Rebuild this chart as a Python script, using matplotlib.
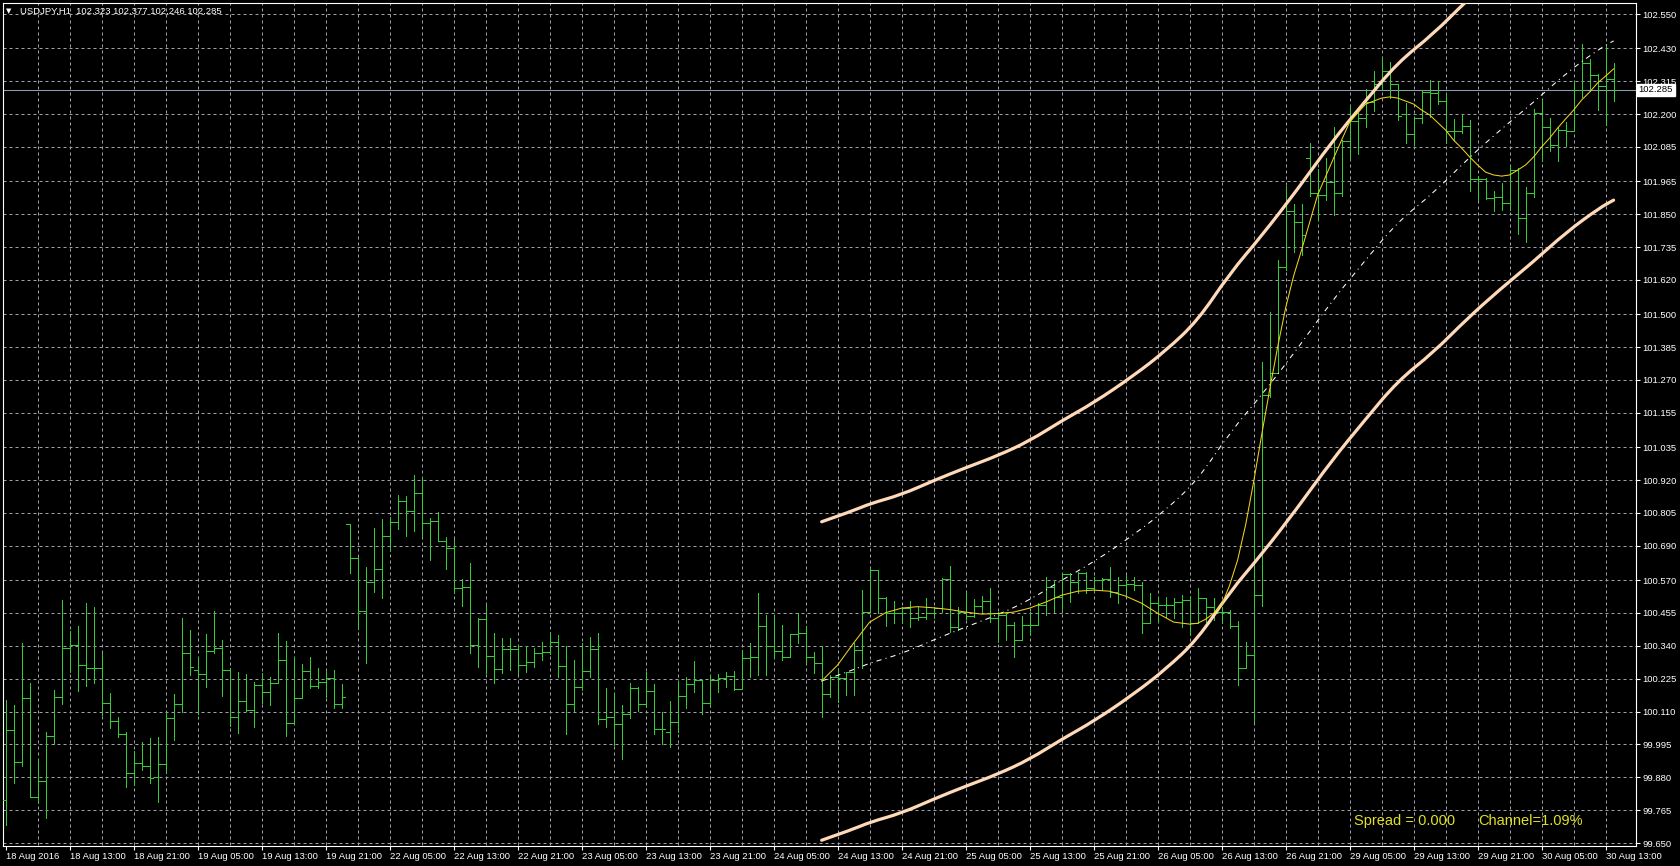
import numpy as np
import matplotlib.pyplot as plt
from matplotlib.path import Path
from matplotlib.patches import PathPatch

# USDJPY H1 bars, 18 Aug 05:00 -> 30 Aug 14:00
opens = [99.800, 100.045, 99.933, 100.157, 99.810, 99.866, 100.024, 100.160, 100.332, 100.342,
         100.272, 100.262, 100.262, 100.139, 100.076, 100.031, 99.895, 99.930, 99.919, 99.880,
         99.926, 100.087, 100.136, 100.314, 100.255, 100.241, 100.321, 100.332, 100.255, 100.090,
         100.146, 100.115, 100.202, 100.178, 100.209, 100.290, 100.069, 100.157, 100.251, 100.199,
         100.213, 100.227, 100.136, 100.766, 100.647, 100.461, 100.563, 100.608, 100.724, 100.773,
         100.846, 100.811, 100.874, 100.769, 100.776, 100.706, 100.682, 100.542, 100.545, 100.342,
         100.433, 100.304, 100.258, 100.328, 100.328, 100.272, 100.283, 100.314, 100.318, 100.353,
         100.269, 100.136, 100.195, 100.251, 100.328, 100.083, 100.090, 100.066, 100.101, 100.192,
         100.136, 100.181, 100.048, 100.038, 100.073, 100.164, 100.206, 100.220, 100.139, 100.220,
         100.227, 100.234, 100.188, 100.297, 100.300, 100.409, 100.339, 100.321, 100.300, 100.381,
         100.384, 100.300, 100.279, 100.171, 100.230, 100.227, 100.248, 100.325, 100.458, 100.605,
         100.507, 100.454, 100.454, 100.472, 100.437, 100.440, 100.454, 100.472, 100.573, 100.405,
         100.458, 100.444, 100.479, 100.496, 100.437, 100.447, 100.412, 100.360, 100.412, 100.412,
         100.482, 100.545, 100.510, 100.591, 100.563, 100.594, 100.542, 100.570, 100.573, 100.528,
         100.552, 100.556, 100.552, 100.419, 100.489, 100.482, 100.482, 100.493, 100.500, 100.419,
         100.507, 100.475, 100.458, 100.458, 100.409, 100.262, 100.307, 100.517, 101.217, 101.294,
         101.665, 101.861, 101.822, 102.046, 101.924, 101.917, 101.962, 101.924, 102.106, 102.176,
         102.186, 102.242, 102.305, 102.351, 102.305, 102.200, 102.130, 102.186, 102.277, 102.274,
         102.246, 102.141, 102.141, 102.158, 101.973, 101.973, 101.906, 101.910, 101.889, 102.004,
         101.836, 101.924, 102.204, 102.155, 102.092, 102.144, 102.141, 102.284, 102.379, 102.337,
         102.298, 102.323]
highs = [100.150, 100.132, 100.350, 100.210, 99.944, 100.038, 100.185, 100.500, 100.391, 100.409,
         100.489, 100.475, 100.314, 100.174, 100.090, 100.038, 99.971, 100.003, 100.017, 100.020,
         100.108, 100.171, 100.437, 100.395, 100.300, 100.381, 100.461, 100.360, 100.262, 100.248,
         100.241, 100.213, 100.244, 100.230, 100.384, 100.356, 100.300, 100.276, 100.300, 100.262,
         100.255, 100.255, 100.206, 100.766, 100.650, 100.615, 100.752, 100.783, 100.790, 100.867,
         100.864, 100.937, 100.930, 100.787, 100.808, 100.720, 100.713, 100.573, 100.629, 100.437,
         100.489, 100.384, 100.367, 100.367, 100.342, 100.339, 100.332, 100.353, 100.388, 100.377,
         100.339, 100.290, 100.350, 100.370, 100.384, 100.192, 100.174, 100.132, 100.210, 100.195,
         100.248, 100.206, 100.108, 100.146, 100.216, 100.230, 100.286, 100.220, 100.237, 100.241,
         100.248, 100.251, 100.325, 100.350, 100.524, 100.447, 100.447, 100.412, 100.381, 100.454,
         100.409, 100.318, 100.339, 100.237, 100.262, 100.248, 100.350, 100.535, 100.612, 100.605,
         100.510, 100.496, 100.475, 100.496, 100.475, 100.507, 100.475, 100.577, 100.619, 100.475,
         100.528, 100.503, 100.514, 100.542, 100.458, 100.458, 100.423, 100.444, 100.458, 100.489,
         100.580, 100.570, 100.594, 100.594, 100.598, 100.598, 100.580, 100.577, 100.615, 100.580,
         100.587, 100.580, 100.563, 100.524, 100.510, 100.510, 100.507, 100.517, 100.514, 100.542,
         100.507, 100.507, 100.475, 100.465, 100.426, 100.353, 100.906, 101.333, 101.508, 101.690,
         101.947, 101.885, 101.885, 102.099, 102.008, 102.046, 102.155, 102.109, 102.228, 102.211,
         102.288, 102.351, 102.396, 102.382, 102.305, 102.239, 102.190, 102.284, 102.319, 102.316,
         102.274, 102.183, 102.200, 102.179, 101.983, 101.976, 101.931, 101.959, 102.018, 102.011,
         101.945, 102.218, 102.249, 102.186, 102.155, 102.172, 102.316, 102.445, 102.393, 102.340,
         102.442, 102.377]
lows = [99.712, 99.860, 99.919, 99.810, 99.790, 99.737, 99.996, 100.136, 100.248, 100.181,
        100.199, 100.209, 100.097, 100.052, 100.020, 99.845, 99.852, 99.905, 99.860, 99.793,
        99.895, 100.010, 100.108, 100.237, 100.101, 100.195, 100.314, 100.164, 100.059, 100.034,
        100.111, 100.055, 100.139, 100.132, 100.209, 100.024, 100.066, 100.157, 100.192, 100.192,
        100.160, 100.122, 100.122, 100.594, 100.398, 100.279, 100.528, 100.507, 100.671, 100.748,
        100.724, 100.741, 100.724, 100.640, 100.706, 100.608, 100.524, 100.479, 100.314, 100.265,
        100.244, 100.209, 100.244, 100.255, 100.241, 100.248, 100.265, 100.290, 100.311, 100.230,
        100.031, 100.111, 100.185, 100.230, 100.066, 100.055, 99.993, 99.944, 100.087, 100.111,
        100.125, 100.031, 99.996, 99.985, 100.038, 100.122, 100.178, 100.101, 100.125, 100.178,
        100.195, 100.185, 100.188, 100.230, 100.237, 100.237, 100.297, 100.290, 100.300, 100.350,
        100.279, 100.244, 100.090, 100.160, 100.143, 100.167, 100.167, 100.262, 100.458, 100.454,
        100.409, 100.419, 100.419, 100.405, 100.430, 100.433, 100.437, 100.458, 100.388, 100.395,
        100.433, 100.440, 100.458, 100.423, 100.353, 100.360, 100.300, 100.360, 100.377, 100.412,
        100.447, 100.458, 100.458, 100.493, 100.524, 100.524, 100.528, 100.535, 100.510, 100.489,
        100.517, 100.535, 100.384, 100.419, 100.423, 100.440, 100.437, 100.405, 100.377, 100.419,
        100.423, 100.430, 100.419, 100.402, 100.202, 100.262, 100.075, 100.479, 101.210, 101.294,
        101.655, 101.717, 101.707, 101.913, 101.829, 101.899, 101.847, 101.913, 102.039, 102.059,
        102.155, 102.211, 102.288, 102.256, 102.179, 102.099, 102.092, 102.169, 102.190, 102.235,
        102.099, 102.106, 102.134, 101.931, 101.899, 101.903, 101.861, 101.864, 101.864, 101.781,
        101.753, 101.910, 102.036, 102.071, 102.036, 102.088, 102.141, 102.260, 102.281, 102.214,
        102.162, 102.246]
closes = [100.045, 99.933, 100.157, 99.810, 99.866, 100.024, 100.160, 100.332, 100.342, 100.272,
          100.262, 100.262, 100.139, 100.076, 100.031, 99.895, 99.930, 99.919, 99.877, 99.926,
          100.087, 100.136, 100.314, 100.265, 100.241, 100.321, 100.332, 100.255, 100.090, 100.146,
          100.115, 100.202, 100.178, 100.209, 100.290, 100.069, 100.157, 100.251, 100.199, 100.213,
          100.227, 100.136, 100.160, 100.647, 100.461, 100.563, 100.608, 100.724, 100.773, 100.846,
          100.811, 100.874, 100.769, 100.776, 100.706, 100.682, 100.542, 100.545, 100.342, 100.433,
          100.304, 100.258, 100.328, 100.328, 100.272, 100.283, 100.314, 100.318, 100.353, 100.269,
          100.136, 100.195, 100.251, 100.328, 100.083, 100.090, 100.066, 100.101, 100.192, 100.136,
          100.181, 100.048, 100.048, 100.073, 100.164, 100.206, 100.220, 100.139, 100.220, 100.227,
          100.234, 100.188, 100.297, 100.300, 100.409, 100.339, 100.321, 100.300, 100.381, 100.384,
          100.300, 100.279, 100.171, 100.230, 100.227, 100.248, 100.325, 100.458, 100.605, 100.507,
          100.454, 100.454, 100.472, 100.437, 100.440, 100.454, 100.472, 100.573, 100.405, 100.458,
          100.444, 100.479, 100.496, 100.437, 100.447, 100.412, 100.360, 100.412, 100.412, 100.482,
          100.545, 100.510, 100.591, 100.563, 100.594, 100.542, 100.570, 100.573, 100.528, 100.552,
          100.556, 100.552, 100.419, 100.489, 100.482, 100.482, 100.493, 100.500, 100.419, 100.507,
          100.475, 100.458, 100.458, 100.409, 100.262, 100.307, 100.517, 101.217, 101.294, 101.665,
          101.861, 101.822, 101.777, 101.924, 101.917, 101.962, 101.924, 102.106, 102.176, 102.186,
          102.242, 102.305, 102.351, 102.305, 102.195, 102.130, 102.186, 102.277, 102.274, 102.246,
          102.141, 102.141, 102.158, 101.973, 101.973, 101.906, 101.910, 101.889, 102.004, 101.836,
          101.924, 102.204, 102.155, 102.092, 102.144, 102.141, 102.284, 102.379, 102.337, 102.298,
          102.323, 102.285]

# polynomial fit (yellow)
fit_bars = [102, 104, 106, 108, 110, 112, 114, 116, 118, 120, 122, 124, 126, 128, 130, 132, 134,
            136, 138, 140, 142, 144, 146, 148, 149, 150, 151, 152, 153, 154, 155, 156, 157, 158,
            159, 160, 161, 162, 164, 166, 168, 170, 172, 173, 174, 176, 177, 178, 180, 181, 182,
            183, 184, 185, 186, 187, 188, 189, 190, 191, 192, 193, 194, 195, 196, 197, 198, 199,
            200, 201]
fit_vals = [100.217, 100.273, 100.350, 100.423, 100.456, 100.472, 100.477, 100.473, 100.467,
            100.458, 100.451, 100.453, 100.458, 100.472, 100.493, 100.517, 100.531, 100.535,
            100.531, 100.514, 100.489, 100.454, 100.423, 100.416, 100.419, 100.433, 100.454,
            100.482, 100.552, 100.640, 100.763, 100.913, 101.077, 101.235, 101.385, 101.522,
            101.634, 101.725, 101.917, 102.046, 102.172, 102.235, 102.256, 102.260, 102.256,
            102.235, 102.214, 102.197, 102.144, 102.109, 102.081, 102.050, 102.022, 101.997,
            101.987, 101.983, 101.987, 102.004, 102.022, 102.050, 102.085, 102.116, 102.151,
            102.183, 102.214, 102.249, 102.277, 102.309, 102.333, 102.358]

# channel middle line and half width
mid_bars = [102, 106, 108, 112, 116, 120, 124, 128, 132, 136, 141, 145, 149, 153, 157, 161.5,
            165.7, 169.8, 174, 178.5, 182.6, 186.8, 190.9, 195.1, 199.2, 201]
mid_vals = [100.217, 100.256, 100.280, 100.312, 100.361, 100.406, 100.448, 100.500, 100.570,
            100.633, 100.728, 100.815, 100.920, 101.085, 101.217, 101.380, 101.543, 101.683,
            101.823, 101.924, 102.039, 102.144, 102.239, 102.344, 102.428, 102.456]
chan_half = 0.557

x_labels = ["18 Aug 2016", "18 Aug 13:00", "18 Aug 21:00", "19 Aug 05:00", "19 Aug 13:00",
            "19 Aug 21:00", "22 Aug 05:00", "22 Aug 13:00", "22 Aug 21:00", "23 Aug 05:00",
            "23 Aug 13:00", "23 Aug 21:00", "24 Aug 05:00", "24 Aug 13:00", "24 Aug 21:00",
            "25 Aug 05:00", "25 Aug 13:00", "25 Aug 21:00", "26 Aug 05:00", "26 Aug 13:00",
            "26 Aug 21:00", "29 Aug 05:00", "29 Aug 13:00", "29 Aug 21:00", "30 Aug 05:00",
            "30 Aug 13:00"]
y_labels = ["99.650", "99.765", "99.880", "99.995", "100.110", "100.225", "100.340", "100.455",
            "100.570", "100.690", "100.805", "100.920", "101.035", "101.155", "101.270", "101.385",
            "101.500", "101.620", "101.735", "101.850", "101.965", "102.085", "102.200", "102.315",
            "102.430", "102.550"]
y_ticks = [float(s) for s in y_labels]

GREEN = '#32cd32'
GRID = '#a0a0a8'
PEACH = '#ffd9b8'
YELLOW = '#f0d21c'
plt.rcParams['font.family'] = ['Liberation Sans', 'DejaVu Sans']


def smooth_path(xs, ys):
    # quadratic bezier through midpoints, samples used as control points
    verts = [(xs[0], ys[0])]
    codes = [Path.MOVETO]
    for i in range(1, len(xs) - 1):
        verts += [(xs[i], ys[i]), ((xs[i] + xs[i + 1]) / 2, (ys[i] + ys[i + 1]) / 2)]
        codes += [Path.CURVE3, Path.CURVE3]
    verts.append((xs[-1], ys[-1]))
    codes.append(Path.LINETO)
    return Path(verts, codes)


W, H = 1680, 866
fig = plt.figure(figsize=(W / 100, H / 100), dpi=100, facecolor='black')
ax = fig.add_axes([2.5 / W, 20 / H, (1636 - 2.5) / W, (846 - 3) / H])
ax.set_facecolor('black')
ax.set_xlim(-0.4, 203.8)
ax.set_ylim(99.6399, 102.5885)

# grid
ax.hlines(y_ticks, -0.4, 203.8, colors=GRID, linewidth=0.72, linestyles=(0, (3, 3)), zorder=1)
ax.vlines(np.arange(4, 204, 4), 99.6, 102.6, colors=GRID, linewidth=0.72,
          linestyles=(0, (3, 3)), zorder=1)

# bid line
ax.axhline(closes[-1], color='#8e9bb0', linewidth=0.75, zorder=2)

# OHLC bars
idx = np.arange(len(closes))
ax.vlines(idx, lows, highs, colors=GREEN, linewidth=0.72, antialiased=False, zorder=3)
ax.hlines(opens, idx - 0.42, idx, colors=GREEN, linewidth=0.72, antialiased=False, zorder=3)
ax.hlines(closes, idx, idx + 0.42, colors=GREEN, linewidth=0.72, antialiased=False, zorder=3)

# regression channel
mid = np.array(mid_vals)
ax.add_patch(PathPatch(smooth_path(mid_bars, mid), facecolor='none', edgecolor='white',
                       linewidth=0.75, linestyle=(0, (5, 4, 1, 4)), zorder=4))
for band in (mid + chan_half, mid - chan_half):
    ax.add_patch(PathPatch(smooth_path(mid_bars, band), facecolor='none', edgecolor=PEACH,
                           linewidth=2.3, capstyle='round', zorder=5))
ax.plot(fit_bars, fit_vals, color=YELLOW, linewidth=0.75, zorder=6)

# axes styling
for s in ax.spines.values():
    s.set_color('white')
    s.set_linewidth(0.8)
ax.yaxis.tick_right()
ax.set_yticks(y_ticks, y_labels)
ax.set_xticks(np.arange(0, 8 * len(x_labels), 8), x_labels)
ax.tick_params(colors='white', labelsize=6.8, length=3, width=0.8, pad=1.5)
for lab in ax.get_xticklabels():
    lab.set_horizontalalignment('left')

# bid price box
ax.text(1.0015, closes[-1], f"{closes[-1]:.3f}", transform=ax.get_yaxis_transform(),
        ha='left', va='center', fontsize=6.8, color='black', zorder=10,
        bbox=dict(boxstyle='square,pad=0.18', facecolor='white', edgecolor='white'))

# header
fig.text(6 / W, 1 - 11 / H, "\u25BC", color='white', fontsize=5, va='center', ha='left',
         family=['DejaVu Sans'])
fig.text(20 / W, 1 - 11 / H,
         f"USDJPY,H1  {opens[-1]:.3f} {highs[-1]:.3f} {lows[-1]:.3f} {closes[-1]:.3f}",
         color='white', fontsize=6.8, va='center', ha='left')

# channel info
fig.text(1354 / W, 1 - 821 / H, "Spread = 0.000", color='#e0e024', fontsize=10.5,
         va='center', ha='left')
fig.text(1478 / W, 1 - 821 / H, "Channel=1.09%", color='#e0e024', fontsize=10.5,
         va='center', ha='left')

plt.savefig('out.png', dpi=100, facecolor='black')
plt.close()
